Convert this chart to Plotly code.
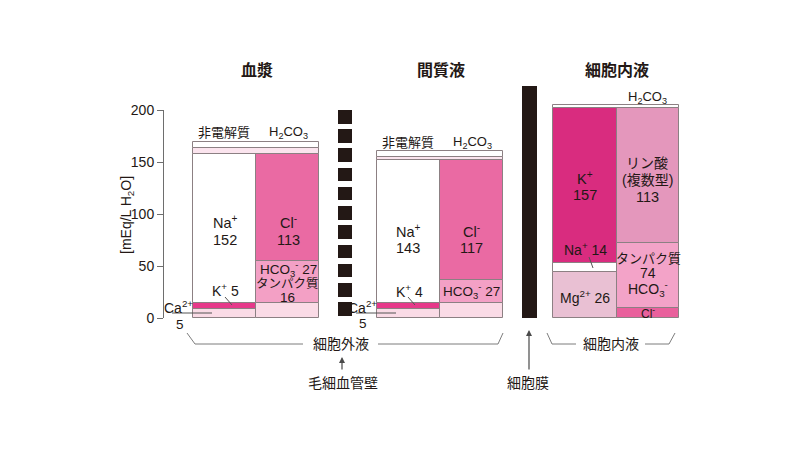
import plotly.graph_objects as go

# ---------------- data (mEq/L H2O, segment heights as drawn) ----------------
plasma_cation_vals = [9, 5, 144]          # Ca2+/Mg (pale), K+, Na+
plasma_anion_vals = [14, 41, 103]         # other, HCO3-/protein, Cl-
plasma_top_vals = [5, 6]                  # non-electrolyte, H2CO3
inter_cation_vals = [8.5, 6, 137.5]
inter_anion_vals = [14, 22.5, 115.5]
inter_top_vals = [2.5, 6.5]
intra_cation_vals = [44, 9, 149]          # Mg2+, Na+, K+
intra_anion_vals = [10, 62, 130]          # Cl-, protein/HCO3-, phosphate
intra_top_vals = [3]
membrane_vals = [223]
wall_block_count = 11
wall_block_height = 13
wall_block_period = 18.5
y_ticks = [0, 50, 100, 150, 200]

plasma_numbers = {"Na": 152, "Cl": 113, "K": 5, "HCO3": 27, "prot": 16, "Ca": 5}
inter_numbers = {"Na": 143, "Cl": 117, "K": 4, "HCO3": 27, "Ca": 5}
intra_numbers = {"K": 157, "P": 113, "Na": 14, "prot": 74, "Mg": 26}

# ---------------- layout helpers ----------------
OFF = 8.0            # page offset of the figure inside the browser window
PX0, SC = 318.0, 1.04
def Y(py):
    return (PX0 - py) / SC

FONT = "Liberation Sans, Noto Sans CJK JP, sans-serif"
TXT = "#231815"
EDGE = "#8c8083"

C_PALE = "#fadbe6"
C_K = "#e6398a"
C_CL = "#ea6aa3"
C_HCO3 = "#f3a0c5"
C_TOPPALE = "#fbe4ee"
C_WHITE = "#ffffff"
C_IK = "#d92c7f"
C_IP = "#e497bc"
C_IPROT = "#f3a3c8"
C_ICL = "#e9609c"
C_MG = "#e9c0d3"

fig = go.Figure()

def stack(xc, w, vals, colors, start=0.0, line=EDGE):
    bases, b = [], start
    for v in vals:
        bases.append(b)
        b += v
    fig.add_trace(go.Bar(
        x=[xc] * len(vals), y=vals, base=bases, width=[w] * len(vals),
        marker=dict(color=colors, line=dict(color=line, width=1)),
        hoverinfo="skip", showlegend=False, xaxis="x", yaxis="y"))
    return b

# plasma
top = stack(224.5, 63, plasma_cation_vals, [C_PALE, C_K, C_WHITE])
stack(287.5, 63, plasma_anion_vals, [C_PALE, C_HCO3, C_CL])
stack(256, 126, plasma_top_vals, [C_TOPPALE, C_WHITE], start=top)
# interstitial
top = stack(408.5, 63, inter_cation_vals, [C_PALE, C_K, C_WHITE])
stack(471.5, 63, inter_anion_vals, [C_PALE, C_HCO3, C_CL])
stack(440, 126, inter_top_vals, [C_TOPPALE, C_WHITE], start=top)
# intracellular
top = stack(585, 64, intra_cation_vals, [C_MG, C_WHITE, C_IK])
stack(648, 62, intra_anion_vals, [C_ICL, C_IPROT, C_IP])
stack(616, 126, intra_top_vals, [C_WHITE], start=top)

# capillary wall (dashed blocks)
wall_bases = [200 - wall_block_period * i - wall_block_height for i in range(wall_block_count)]
fig.add_trace(go.Bar(x=[345] * wall_block_count, y=[wall_block_height] * wall_block_count,
                     base=wall_bases, width=[14] * wall_block_count,
                     marker=dict(color="#231815", line=dict(width=0)),
                     hoverinfo="skip", showlegend=False, xaxis="x", yaxis="y"))
# cell membrane
fig.add_trace(go.Bar(x=[529], y=membrane_vals, base=[0], width=[15],
                     marker=dict(color="#231815", line=dict(width=0)),
                     hoverinfo="skip", showlegend=False, xaxis="x", yaxis="y"))

# visible y axis carrier
fig.add_trace(go.Scatter(x=[None], y=[None], xaxis="x", yaxis="y2",
                         showlegend=False, hoverinfo="skip"))

ann = []
def A(text, px, py, size=13, color=TXT, **kw):
    d = dict(text=text, x=px, y=Y(py), xref="x", yref="y", showarrow=False,
             font=dict(family=FONT, size=size, color=color),
             xanchor="center", yanchor="middle")
    d.update(kw)
    ann.append(d)

# titles
A("<b>血漿</b>", 257, 70, size=16)
A("<b>間質液</b>", 441, 70, size=16)
A("<b>細胞内液</b>", 617, 70, size=16)

# plasma labels
A("非電解質", 224, 132, size=13)
A("H<sub>2</sub>CO<sub>3</sub>", 288, 132, size=13)
A("Na<sup>+</sup>", 225, 222, size=14.5)
A(str(plasma_numbers["Na"]), 225, 240, size=14.5)
A("Cl<sup>-</sup>", 288, 222, size=14.5)
A(str(plasma_numbers["Cl"]), 288, 240, size=14.5)
A("K<sup>+</sup> %d" % plasma_numbers["K"], 225, 290, size=14)
A("HCO<sub>3</sub><sup>-</sup> %d" % plasma_numbers["HCO3"], 288, 269, size=13.5)
A("タンパク質", 287, 283.5, size=12.5)
A(str(plasma_numbers["prot"]), 287, 297.5, size=13.5)
A("Ca<sup>2+</sup>", 178, 307, size=14)
A(str(plasma_numbers["Ca"]), 180, 324, size=13.5)

# interstitial labels
A("非電解質", 408, 142, size=13)
A("H<sub>2</sub>CO<sub>3</sub>", 472, 142, size=13)
A("Na<sup>+</sup>", 408, 231, size=14.5)
A(str(inter_numbers["Na"]), 408, 248, size=14.5)
A("Cl<sup>-</sup>", 471, 231, size=14.5)
A(str(inter_numbers["Cl"]), 471, 248, size=14.5)
A("K<sup>+</sup> %d" % inter_numbers["K"], 409, 291, size=14)
A("HCO<sub>3</sub><sup>-</sup> %d" % inter_numbers["HCO3"], 471, 291, size=13.5)
A("Ca<sup>2+</sup>", 362, 307, size=14)
A(str(inter_numbers["Ca"]), 363, 323, size=13.5)

# intracellular labels
A("H<sub>2</sub>CO<sub>3</sub>", 647, 97, size=13)
A("K<sup>+</sup>", 585, 178, size=14.5)
A(str(intra_numbers["K"]), 585, 195, size=14.5)
A("リン酸", 647, 163, size=14)
A("(複数型)", 647, 180, size=14)
A(str(intra_numbers["P"]), 647, 197, size=14.5)
A("Na<sup>+</sup> %d" % intra_numbers["Na"], 585, 249, size=14)
A("タンパク質", 648, 258, size=13)
A(str(intra_numbers["prot"]), 648, 273, size=14)
A("HCO<sub>3</sub><sup>-</sup>", 648, 289, size=14)
A("Cl<sup>-</sup>", 648, 313, size=12)
A("Mg<sup>2+</sup> %d" % intra_numbers["Mg"], 585, 297, size=14)

# brackets / bottom labels
A("細胞外液", 341, 344, size=14)
A("細胞内液", 611, 344, size=14)
A("毛細血管壁", 343, 383, size=14)
A("細胞膜", 528, 383, size=14)

# y axis title
A("[mEq/L H<sub>2</sub>O]", 127, 215, size=14, textangle=-90)

# arrows
for (px, tip, tail) in [(342, 357, 371), (529, 330, 371)]:
    ann.append(dict(x=px, y=Y(tip), ax=px, ay=Y(tail), xref="x", yref="y",
                    axref="x", ayref="y", showarrow=True, arrowhead=2,
                    arrowsize=1, arrowwidth=1.2, arrowcolor="#4a4a4a", text=""))

shapes = []
def path(pts, color="#7d7d7d", width=1):
    d = "M " + " L ".join("%g,%g" % (x, Y(y)) for x, y in pts)
    shapes.append(dict(type="path", path=d, xref="x", yref="y",
                       line=dict(color=color, width=width)))

path([(187, 333), (195, 344), (303, 344)])
path([(378, 344), (498, 344), (503, 333)])
path([(547, 333), (552, 344), (576, 344)])
path([(645, 344), (669, 344), (675, 333)])
# leader lines
path([(225, 297), (232, 305)], color="#555")
path([(408, 297), (415, 305)], color="#555")
path([(589, 257), (593, 268)], color="#555")
path([(172, 313), (212, 313)], color="#555")
path([(356, 313), (396, 313)], color="#555")

H = 450.0
fig.update_layout(
    template="none",
    width=800, height=450, margin=dict(l=0, r=0, t=0, b=0, pad=0, autoexpand=False),
    paper_bgcolor="white", plot_bgcolor="rgba(0,0,0,0)",
    barmode="overlay", bargap=0, showlegend=False,
    xaxis=dict(range=[OFF, 800 + OFF], domain=[0, 1], visible=False,
               fixedrange=True, automargin=False),
    yaxis=dict(range=[Y(H + OFF), Y(OFF)], domain=[0, 1], visible=False,
               fixedrange=True, automargin=False),
    yaxis2=dict(range=[0, 200],
                domain=[(H - (318 - OFF)) / H, (H - (110 - OFF)) / H],
                anchor="free", position=(163 - OFF) / 800, side="left",
                showline=True, linecolor="#6e6e6e", linewidth=1,
                ticks="outside", ticklen=6, tickcolor="#6e6e6e", tickwidth=1,
                tickvals=y_ticks, showgrid=False, zeroline=False, automargin=False,
                tickfont=dict(family=FONT, size=14, color=TXT), fixedrange=True),
    annotations=ann, shapes=shapes,
    font=dict(family=FONT, color=TXT),
)

fig.write_html("out.html")
